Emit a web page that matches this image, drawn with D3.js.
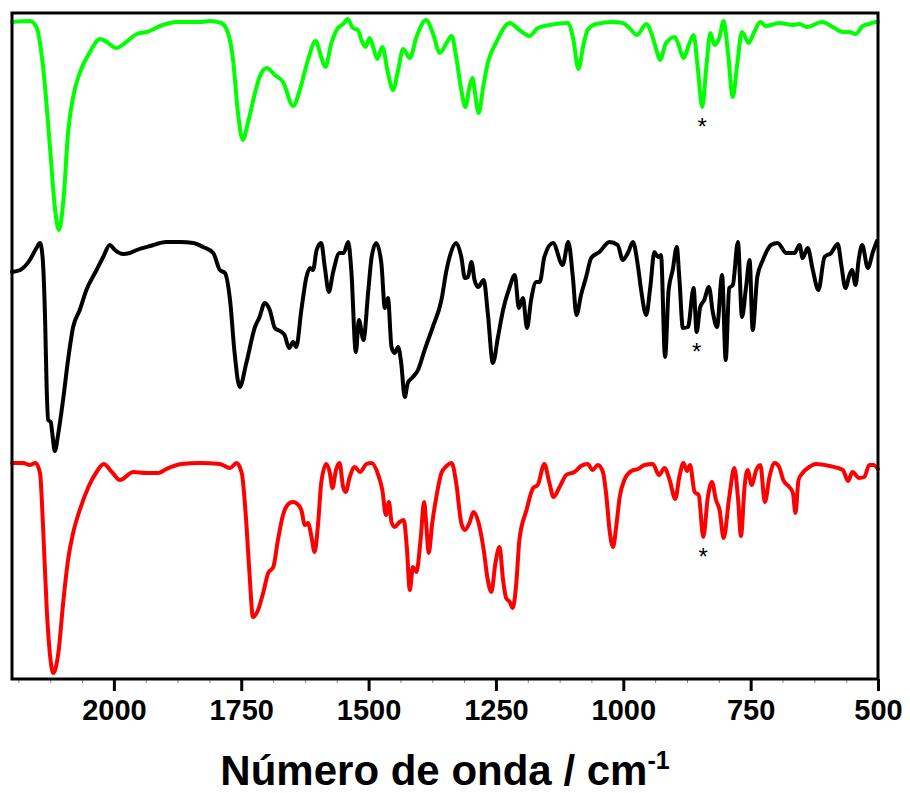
<!DOCTYPE html>
<html>
<head>
<meta charset="utf-8">
<script type="text/javascript" src="https://d3js.org/d3.v7.min.js"></script>
<style>
  body { margin: 0; background: #fff; }
  text { font-family: "Liberation Sans", Arial, sans-serif; }
</style>
</head>
<body>
<div id="chart"></div>
<script type="text/javascript">
  const w = 910
  const h = 793
  const margin = {left: 12, right: 32, top: 13, bottom: 114}

  // wavenumbers (cm-1) and offset intensities (a.u.)
  const greenWn = [2200,2165,2152,2139,2125,2116,2108,2099,2090,2080,2067,2047,2027,2014,1995,1978,1955,1936,1904,1877,1831,1812,1789,1776,1766,1757,1747,1737,1723,1714,1700,1684,1668,1648,1635,1619,1604,1593,1585,1573,1560,1550,1541,1531,1521,1514,1506,1498,1491,1483,1473,1462,1452,1442,1432,1419,1406,1387,1374,1360,1347,1337,1328,1318,1310,1302,1296,1290,1284,1275,1266,1249,1223,1204,1184,1168,1145,1109,1099,1088,1079,1070,1053,1020,1001,988,973,955,945,935,928,916,899,890,882,870,862,854,845,837,829,821,811,803,795,785,777,767,754,743,731,720,694,667,654,640,609,589,569,556,544,530,517,504,500]
  const greenVal = [657,658,652,612,529,472,449,479,546,582,606,627,640,637,631,636,645,647,654,657,657,658,656,646,619,569,539,556,586,602,611,604,597,573,589,619,638,622,612,636,651,655,660,651,649,639,632,641,632,620,632,606,589,609,630,621,642,659,646,626,636,643,622,589,572,592,601,582,566,592,616,637,656,649,643,651,654,656,642,610,632,649,655,657,656,651,644,655,646,629,619,636,642,632,621,636,644,612,572,612,646,634,642,658,629,582,612,647,636,647,657,653,656,654,655,652,657,652,647,647,645,653,655,657,657]

  const blackWn = [2200,2184,2165,2152,2145,2140,2135,2132,2129,2124,2121,2116,2109,2099,2090,2080,2067,2054,2034,2021,2008,1998,1982,1969,1955,1929,1897,1870,1844,1825,1805,1792,1782,1772,1763,1753,1740,1723,1714,1704,1694,1684,1671,1665,1656,1648,1642,1632,1622,1615,1609,1602,1593,1586,1578,1570,1557,1549,1540,1534,1525,1519,1510,1501,1494,1485,1475,1468,1462,1455,1449,1442,1436,1429,1423,1413,1403,1390,1374,1357,1347,1341,1328,1318,1311,1305,1298,1292,1285,1274,1266,1256,1246,1236,1223,1213,1205,1197,1189,1181,1171,1164,1155,1138,1119,1108,1099,1092,1083,1073,1063,1047,1027,1011,1001,991,981,971,965,955,947,939,932,926,918,911,903,895,890,883,873,862,856,849,841,832,824,816,806,799,792,785,775,767,759,752,746,737,726,710,697,680,664,654,648,638,628,617,605,592,579,572,564,556,551,544,538,531,520,510,502]
  const blackVal = [407,409,419,431,436,422,359,292,259,257,246,228,246,282,319,352,369,389,409,422,434,429,425,426,429,433,437,437,436,432,426,409,406,379,326,292,316,352,362,376,369,351,347,344,331,337,332,369,402,411,409,429,436,412,387,406,426,426,437,409,327,359,339,386,422,436,416,371,381,332,326,332,316,282,296,302,309,329,352,379,409,422,436,422,401,402,417,399,392,399,366,316,342,369,392,404,371,381,351,379,397,397,422,436,414,437,402,364,384,402,421,427,437,434,419,426,437,412,389,364,392,427,422,424,322,389,409,432,401,351,352,391,347,372,379,392,366,352,404,319,391,394,437,362,392,419,349,402,419,434,436,426,426,434,421,431,409,389,422,426,435,414,391,404,409,394,419,434,411,427,438]

  const redWn = [2200,2178,2165,2154,2145,2139,2132,2125,2119,2109,2099,2090,2080,2067,2050,2034,2020,2004,1988,1962,1936,1913,1897,1867,1831,1792,1772,1759,1749,1740,1733,1727,1717,1707,1697,1687,1678,1668,1655,1648,1638,1632,1625,1619,1612,1606,1599,1593,1583,1576,1571,1564,1557,1550,1545,1537,1527,1517,1504,1494,1481,1473,1466,1460,1455,1449,1439,1431,1425,1419,1413,1406,1398,1391,1387,1382,1375,1367,1357,1347,1337,1328,1318,1311,1302,1294,1284,1274,1266,1259,1251,1243,1236,1230,1223,1217,1210,1204,1190,1177,1168,1155,1145,1137,1125,1112,1096,1083,1070,1060,1050,1040,1033,1027,1020,1014,1007,998,984,971,958,942,930,919,909,898,890,882,875,869,860,852,843,834,826,818,811,803,792,782,775,769,762,756,748,739,731,722,713,703,694,686,674,667,662,656,648,635,622,595,569,559,550,537,527,517,509,500]
  const redVal = [216,216,214,216,206,152,72,22,6,26,79,119,146,169,192,207,215,207,199,207,206,206,210,215,216,215,211,216,206,156,99,62,69,86,106,112,139,164,176,177,174,169,154,156,142,127,156,196,215,206,191,209,216,192,187,202,212,207,215,216,204,189,164,177,157,152,157,159,132,89,112,107,139,177,156,126,156,182,206,213,216,196,156,149,156,167,156,129,99,87,116,132,99,81,77,71,96,139,169,191,194,215,196,182,192,204,207,213,215,209,214,207,182,149,132,152,182,199,208,210,214,215,204,211,199,180,202,216,208,214,187,184,142,182,197,179,169,141,182,211,182,143,192,209,194,209,214,177,202,216,212,199,192,186,166,199,206,212,215,213,209,198,207,201,202,214,214,210]

  const series = [
    {name: "green", wn: greenWn, val: greenVal, color: "#00ff00", star: 845},
    {name: "black", wn: blackWn, val: blackVal, color: "#000000", star: 856},
    {name: "red", wn: redWn, val: redVal, color: "#ff0000", star: 843}
  ]

  const majorTicks = [2000, 1750, 1500, 1250, 1000, 750, 500]
  const minorTicks = d3.range(2187.5, 500, -62.5).filter(t => !majorTicks.includes(t))

  const x = d3.scaleLinear()
              .domain([2200, 500])
              .range([margin.left, w - margin.right])

  const y = d3.scaleLinear()
              .domain([0, 666])
              .range([h - margin.bottom, margin.top])

  const svg = d3.select("#chart")
                .append("svg")
                .attr("width", w)
                .attr("height", h)
                .attr("viewBox", [0, 0, w, h])

  const line = d3.line()
                 .x(d => x(d[0]))
                 .y(d => y(d[1]))
                 .curve(d3.curveMonotoneX)

  // spectra
  series.forEach(s => {
    const pts = s.wn.map((v, i) => [v, s.val[i]])
    svg.append("path")
      .datum(pts)
      .attr("fill", "none")
      .attr("stroke", s.color)
      .attr("stroke-width", 4)
      .attr("stroke-linejoin", "round")
      .attr("stroke-linecap", "round")
      .attr("d", line)

    // asterisk under the marked band
    const i = s.wn.indexOf(s.star)
    svg.append("text")
      .attr("x", x(s.star))
      .attr("y", y(s.val[i]) + 28)
      .attr("text-anchor", "middle")
      .attr("font-size", "24px")
      .text("*")
  })

  // minor ticks
  svg.append("g")
    .attr("transform", `translate(0, ${h - margin.bottom})`)
    .call(d3.axisBottom(x).tickValues(minorTicks).tickSize(4).tickFormat(""))
    .call(g => g.select(".domain").remove())
    .call(g => g.selectAll("line").attr("stroke", "#888").attr("stroke-width", 1))

  // major ticks + labels
  svg.append("g")
    .attr("transform", `translate(0, ${h - margin.bottom})`)
    .call(d3.axisBottom(x).tickValues(majorTicks).tickSize(12).tickPadding(8).tickFormat(d3.format("d")))
    .call(g => g.select(".domain").remove())
    .call(g => g.selectAll("line").attr("stroke", "#000").attr("stroke-width", 3))
    .call(g => g.selectAll("text")
      .attr("fill", "#000")
      .attr("font-size", "29px")
      .attr("font-weight", "bold")
      .attr("font-family", "'Liberation Sans', Arial, sans-serif"))

  // frame
  svg.append("rect")
    .attr("x", margin.left)
    .attr("y", margin.top)
    .attr("width", w - margin.left - margin.right)
    .attr("height", h - margin.top - margin.bottom)
    .attr("fill", "none")
    .attr("stroke", "#000")
    .attr("stroke-width", 3)

  // axis title
  const title = svg.append("text")
    .attr("x", (margin.left + w - margin.right) / 2)
    .attr("y", 785)
    .attr("text-anchor", "middle")
    .attr("font-size", "42px")
    .attr("font-weight", "bold")
  title.append("tspan").text("Número de onda / cm")
  title.append("tspan")
    .attr("font-size", "25px")
    .attr("dy", -16)
    .text("-1")
</script>
</body>
</html>
